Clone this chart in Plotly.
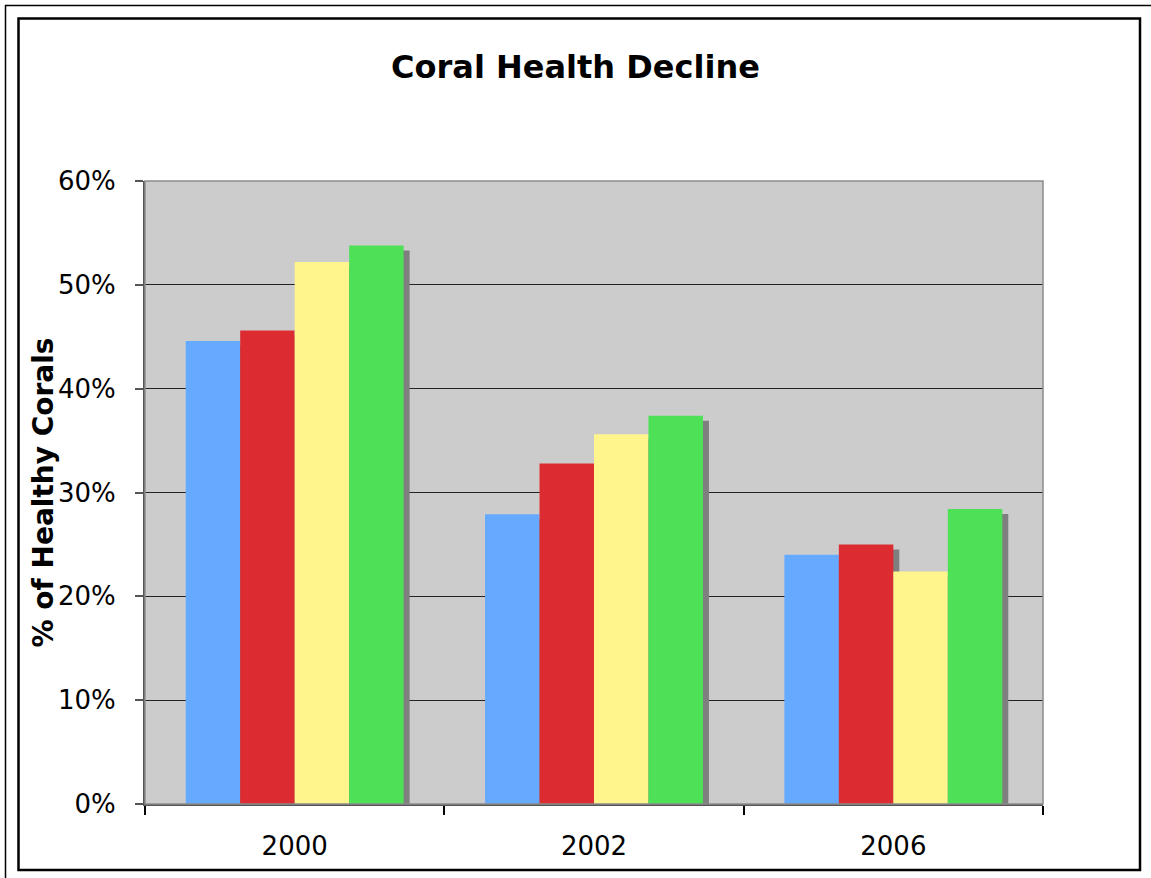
import plotly.graph_objects as go

# Survey years and share of healthy corals per monitoring series
years = ["2000", "2002", "2006"]
series_a = [0.446, 0.279, 0.240]
series_b = [0.456, 0.328, 0.250]
series_c = [0.522, 0.356, 0.224]
series_d = [0.538, 0.374, 0.284]
y_ticks = [0, 0.1, 0.2, 0.3, 0.4, 0.5, 0.6]

colors = ["#66AAFF", "#DD2C31", "#FFF58C", "#4EE157"]
all_series = [series_a, series_b, series_c, series_d]

W, H = 1151, 878
L, R, T, B = 145, 108, 181, 74
plot_w = W - L - R
plot_h = H - T - B
y_max = 0.6

group_frac = 0.728
bar_w = group_frac / len(all_series)
shadow_dx = 6 / (plot_w / len(years))   # px -> category units
shadow_dy = 5 / plot_h * y_max          # px -> value units

xs = list(range(len(years)))
fig = go.Figure()

# drop shadows behind every bar
for i, vals in enumerate(all_series):
    off = -group_frac / 2 + i * bar_w
    fig.add_trace(go.Bar(
        x=xs, y=[v - shadow_dy for v in vals], base=0,
        offset=off + shadow_dx, width=bar_w,
        marker=dict(color="#7F7F7F", line=dict(width=0)),
        hoverinfo="skip", showlegend=False,
    ))

for i, vals in enumerate(all_series):
    off = -group_frac / 2 + i * bar_w
    fig.add_trace(go.Bar(
        x=xs, y=vals, offset=off, width=bar_w,
        marker=dict(color=colors[i], line=dict(width=0)),
        showlegend=False,
    ))

def px_x(p):
    return (p - L) / plot_w

def px_y(p):
    return (H - B - p) / plot_h

shapes = [
    # plot-area frame
    dict(type="rect", xref="paper", yref="paper", x0=0, x1=1, y0=0, y1=1,
         line=dict(color="#8C8C8C", width=1.5), layer="above"),
    # chart frame
    dict(type="rect", xref="paper", yref="paper",
         x0=px_x(18.5), x1=px_x(1140), y0=px_y(870), y1=px_y(18.5),
         line=dict(color="black", width=2.5)),
    # outer page rule
    dict(type="line", xref="paper", yref="paper",
         x0=px_x(5), x1=px_x(1160), y0=px_y(5.5), y1=px_y(5.5),
         line=dict(color="black", width=1.5)),
    dict(type="line", xref="paper", yref="paper",
         x0=px_x(5.5), x1=px_x(5.5), y0=px_y(5), y1=px_y(890),
         line=dict(color="black", width=1.5)),
]

fig.update_layout(
    width=W, height=H,
    margin=dict(l=L, r=R, t=T, b=B),
    paper_bgcolor="white",
    plot_bgcolor="#CCCCCC",
    barmode="overlay",
    font=dict(family="DejaVu Sans, Verdana, sans-serif", color="black"),
    title=dict(text="<b>Coral Health Decline</b>", x=0.5, xanchor="center",
               y=1 - 67 / H, yanchor="middle",
               font=dict(size=32, family="DejaVu Sans, Verdana, sans-serif", color="black")),
    shapes=shapes,
    annotations=[dict(
        text="<b>% of Healthy Corals</b>", textangle=-90,
        xref="paper", yref="paper", x=px_x(43), y=0.5,
        xanchor="center", yanchor="middle", showarrow=False,
        font=dict(size=28, color="black"),
    )],
)

fig.update_xaxes(
    type="linear", range=[-0.5, len(years) - 0.5],
    tickmode="array", tickvals=xs, ticktext=years,
    ticks="", showgrid=False, zeroline=False,
    showline=True, linecolor="#555555", linewidth=2,
    tickfont=dict(size=26), ticklabelstandoff=18,
)
# category boundary tick marks below the axis
fig.update_xaxes(minor=dict(tickvals=[-0.5, 0.5, 1.5, 2.5], ticks="outside",
                            ticklen=9, tickcolor="black", tickwidth=1.5))

fig.update_yaxes(
    range=[0, y_max], tickvals=y_ticks, tickformat=".0%",
    ticks="outside", ticklen=8, tickcolor="#555555", tickwidth=1.5,
    showgrid=True, gridcolor="#222222", gridwidth=1,
    zeroline=False, showline=True, linecolor="#555555", linewidth=2,
    tickfont=dict(size=26), ticklabelstandoff=14,
)

fig.write_html("out.html")
